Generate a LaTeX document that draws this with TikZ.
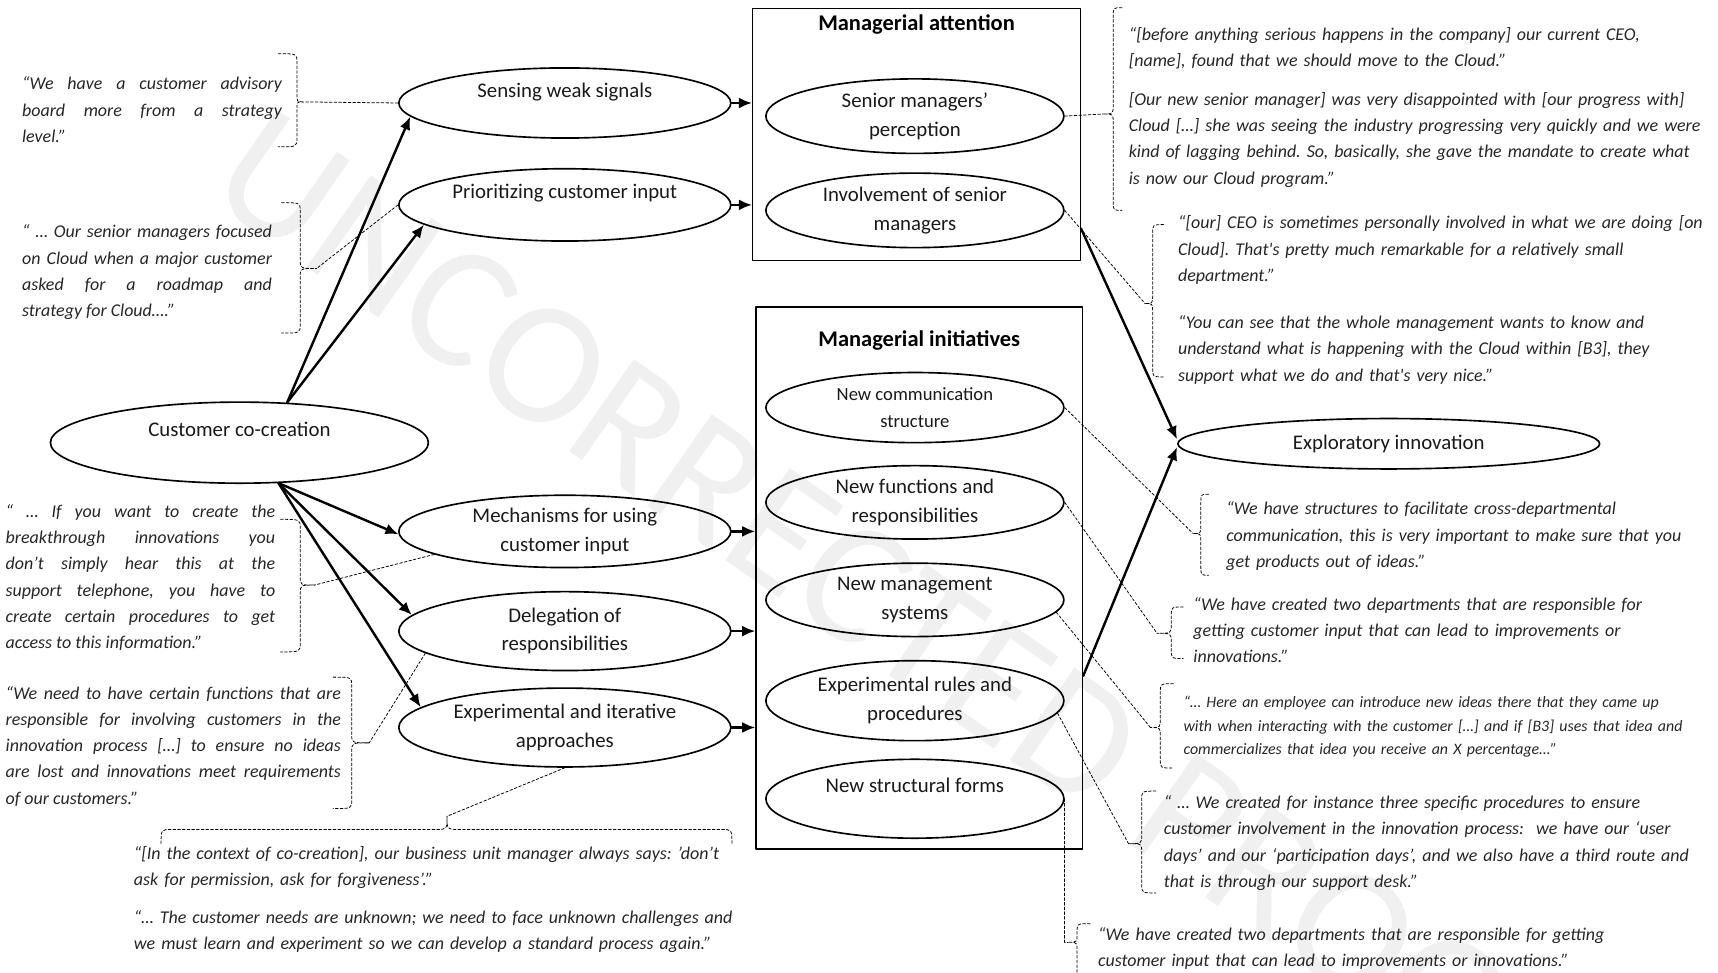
\documentclass[tikz,border=0pt]{standalone}
\usepackage{fontspec}
\setmainfont{Carlito}
\usetikzlibrary{arrows.meta, calc, shapes.geometric}
\frenchspacing

% dashed brace in front of a quote, vertical
% #1 tip name, #2 hook x, #3 spine x, #4 tip x, #5 top y, #6 tip y, #7 bottom y
\newcommand{\qbrace}[7]{%
	\draw[quote line] (#2,#5) .. controls (#3,#5) .. (#3,#5+8)
	-- (#3,#6-8) .. controls (#3,#6) .. (#4,#6)
	.. controls (#3,#6) .. (#3,#6+8)
	-- (#3,#7-8) .. controls (#3,#7) .. (#2,#7);
	\coordinate (#1) at (#4,#6);}
% same, horizontal
% #1 tip name, #2 hook y, #3 spine y, #4 tip y, #5 left x, #6 tip x, #7 right x
\newcommand{\hqbrace}[7]{%
	\draw[quote line] (#5,#2) .. controls (#5,#3) .. (#5+10,#3)
	-- (#6-10,#3) .. controls (#6,#3) .. (#6,#4)
	.. controls (#6,#3) .. (#6+10,#3)
	-- (#7-10,#3) .. controls (#7,#3) .. (#7,#2);
	\coordinate (#1) at (#6,#4);}

\begin{document}
\begin{tikzpicture}[x=1pt, y=-1pt, >={Latex[length=12pt,width=10pt]}, line cap=round, line join=round,
	oval/.style={draw, ellipse, line width=1.5pt, inner xsep=-30pt, inner ysep=-6pt, align=center,
		text=black!90, font=\fontsize{19}{26}\selectfont},
	high text/.style={text depth=24pt},
	frame/.style={draw, line width=1.3pt, inner sep=0pt},
	heading/.style={inner sep=0pt, font=\fontsize{20.5}{24}\selectfont\bfseries},
	quote/.style={anchor=base west, inner sep=0pt, text=black!85, font=\fontsize{16.4}{24}\selectfont\itshape},
	quote line/.style={line width=0.7pt, dash pattern=on 2.5pt off 1.8pt},
	link/.style={->, line width=2.2pt}]

\useasboundingbox (0,0) rectangle (1568,888);

% ==== watermark ====
\node[rotate=-35, text=black!6, font=\fontsize{160}{160}\selectfont] (proof) at (820,560) {UNCORRECTED PROOF};

% ==== boxes ====
\node[frame, minimum width=299pt, minimum height=230pt] (att) at (836.5,123) {};
\node[heading] (atttitle) at (836.5,22) {Managerial attention};
\node[frame, minimum width=298pt, minimum height=495pt] (init) at (839,527.5) {};
\node[heading] (inittitle) at (839,311) {Managerial initiatives};

% ==== ellipses ====
\node[oval, high text, minimum width=345pt, minimum height=74pt] (cc) at (218.5,404) {Customer co-creation};

\node[oval, high text, minimum width=303pt, minimum height=64pt] (sws) at (515.5,94) {Sensing weak signals};
\node[oval, high text, minimum width=303pt, minimum height=66pt] (pci) at (515.5,187) {Prioritizing customer input};
\node[oval, minimum width=303pt, minimum height=66pt] (mech) at (515.5,485) {Mechanisms for using\\customer input};
\node[oval, minimum width=303pt, minimum height=72pt] (del) at (515.5,576) {Delegation of\\responsibilities};
\node[oval, minimum width=303pt, minimum height=72pt] (exp) at (515.5,664) {Experimental and iterative\\approaches};

\node[oval, minimum width=272pt, minimum height=68pt] (smp) at (835,106) {Senior managers’\\perception};
\node[oval, minimum width=272pt, minimum height=68pt] (inv) at (835,192) {Involvement of senior\\managers};

\node[oval, minimum width=272pt, minimum height=64pt, font=\fontsize{17}{25}\selectfont] (ncs) at (835,372) {New communication\\structure};
\node[oval, minimum width=272pt, minimum height=67pt] (nfr) at (835,458.5) {New functions and\\responsibilities};
\node[oval, minimum width=272pt, minimum height=67pt] (nms) at (835,547.5) {New management\\systems};
\node[oval, minimum width=272pt, minimum height=73pt] (erp) at (835,639.5) {Experimental rules and\\procedures};
\node[oval, high text, minimum width=272pt, minimum height=72pt] (nsf) at (835,729) {New structural forms};

\node[oval, minimum width=385pt, minimum height=46pt] (ei) at (1267.5,405) {Exploratory innovation};

% ==== arrows ====
\draw[link] (cc.40) -- (sws.185);
\draw[link] (cc.40) -- (pci.188);
\draw[link] (cc.314) -- (mech.181);
\draw[link] (cc.314) -- (del.174);
\draw[link] (cc.314) -- (exp.172);

\draw[link] (sws.east) -- (sws.east -| att.west);
\draw[link] (pci.east) -- (pci.east -| att.west);
\draw[link] (mech.east) -- (mech.east -| init.west);
\draw[link] (del.east) -- (del.east -| init.west);
\draw[link] (exp.east) -- (exp.east -| init.west);

\draw[link] ($(att.south east)!0.13!(att.north east)$) -- ([yshift=4pt]ei.west);
\draw[link] ($(init.south east)!0.32!(init.north east)$) -- ([yshift=-3pt]ei.west);

% ==== quotes, left ====
\node[quote, text width=237pt, align=justify] (q1) at (20,82)
	{“We have a customer advisory\linebreak board more from a strategy\linebreak level.”};
\node[quote, text width=228pt, align=justify] (q2) at (20,217)
	{“ … Our senior managers focused\linebreak on Cloud when a major customer\linebreak asked for a roadmap and\linebreak strategy for Cloud….”};
\node[quote, text width=246pt, align=justify] (q3) at (5,472)
	{“ … If you want to create the\linebreak breakthrough innovations you\linebreak don’t simply hear this at the\linebreak support telephone, you have to\linebreak create certain procedures to get\linebreak access to this information.”};
\node[quote, text width=306pt, align=justify] (q4) at (5,638)
	{“We need to have certain functions that are\linebreak responsible for involving customers in the\linebreak innovation process […] to ensure no ideas\linebreak are lost and innovations meet requirements\linebreak of our customers.”};
\node[quote, text width=600pt, align=left] (q5) at (122,784)
	{“[In the context of co-creation], our business unit manager always says: ’don’t\\ask for permission, ask for forgiveness’.”\\[11pt]
	“… The customer needs are unknown; we need to face unknown challenges and\\we must learn and experiment so we can develop a standard process again.”};

\qbrace{b1}{254}{271}{276}{49}{93}{134}
\qbrace{b2}{257}{274}{289}{185}{245}{304}
\qbrace{b3}{256}{274}{287}{474}{534}{595}
\qbrace{b4}{304}{321}{337}{618}{678}{738}
\hqbrace{b5}{770}{757}{745}{147}{408}{668}

\draw[quote line] (sws.west) -- (b1);
\draw[quote line] (pci.west) -- (b2);
\draw[quote line] (mech.190) -- (b3);
\draw[quote line] (del.189) -- (b4);
\draw[quote line] (exp.south) -- (b5);

% ==== quotes, right ====
\node[quote, text width=600pt, align=left] (q6) at (1030,37)
	{“[before anything serious happens in the company] our current CEO,\\{}[name], found that we should move to the Cloud.”\\[11pt]
	[Our new senior manager] was very disappointed with [our progress with]\\Cloud […] she was seeing the industry progressing very quickly and we were\\kind of lagging behind. So, basically, she gave the mandate to create what\\is now our Cloud program.”};
\node[quote, text width=600pt, align=left] (q7) at (1075,209)
	{“[our] CEO is sometimes personally involved in what we are doing [on\\Cloud]. That\textquotesingle s pretty much remarkable for a relatively small\\department.”\\[19pt]
	“You can see that the whole management wants to know and\\understand what is happening with the Cloud within [B3], they\\support what we do and that\textquotesingle s very nice.”};
\node[quote, text width=600pt, align=left] (q8) at (1119,470)
	{“We have structures to facilitate cross-departmental\\communication, this is very important to make sure that you\\get products out of ideas.”};
\node[quote, text width=600pt, align=left] (q9) at (1089,557)
	{“We have created two departments that are responsible for\\getting customer input that can lead to improvements or\\innovations.”};
\node[quote, text width=600pt, align=left, font=\fontsize{14.5}{21.3}\selectfont\itshape] (q10) at (1080,646)
	{“… Here an employee can introduce new ideas there that they came up\\with when interacting with the customer […] and if [B3] uses that idea and\\commercializes that idea you receive an X percentage…”};
\node[quote, text width=600pt, align=left] (q11) at (1062,738)
	{“ … We created for instance three specific procedures to ensure\\customer involvement in the innovation process:\ \ we have our ‘user\\days’ and our ‘participation days’, and we also have a third route and\\that is through our support desk.”};
\node[quote, text width=600pt, align=left] (q12) at (1002,858)
	{“We have created two departments that are responsible for getting\\customer input that can lead to improvements or innovations.”};

\qbrace{b6}{1024}{1016}{1007}{7}{104}{192}
\qbrace{b7}{1062}{1052}{1045}{205}{277}{344}
\qbrace{b8}{1103}{1096}{1089}{451}{487}{525}
\qbrace{b9}{1080}{1069}{1056}{554}{578}{601}
\qbrace{b10}{1071}{1059}{1050}{624}{664}{701}
\qbrace{b11}{1055}{1042}{1030}{722}{770}{815}
\qbrace{b12}{995}{983}{975}{843}{860}{905}

\draw[quote line] (smp.east) -- (b6);
\draw[quote line] (inv.east) -- (b7);
\draw[quote line] (ncs.east) -- (b8);
\draw[quote line] (nfr.east) -- (b9);
\draw[quote line] (nms.355) -- (b10);
\draw[quote line] (erp.355) -- (b11);
\draw[quote line] (nsf.east) |- (b12);

\end{tikzpicture}
\end{document}
